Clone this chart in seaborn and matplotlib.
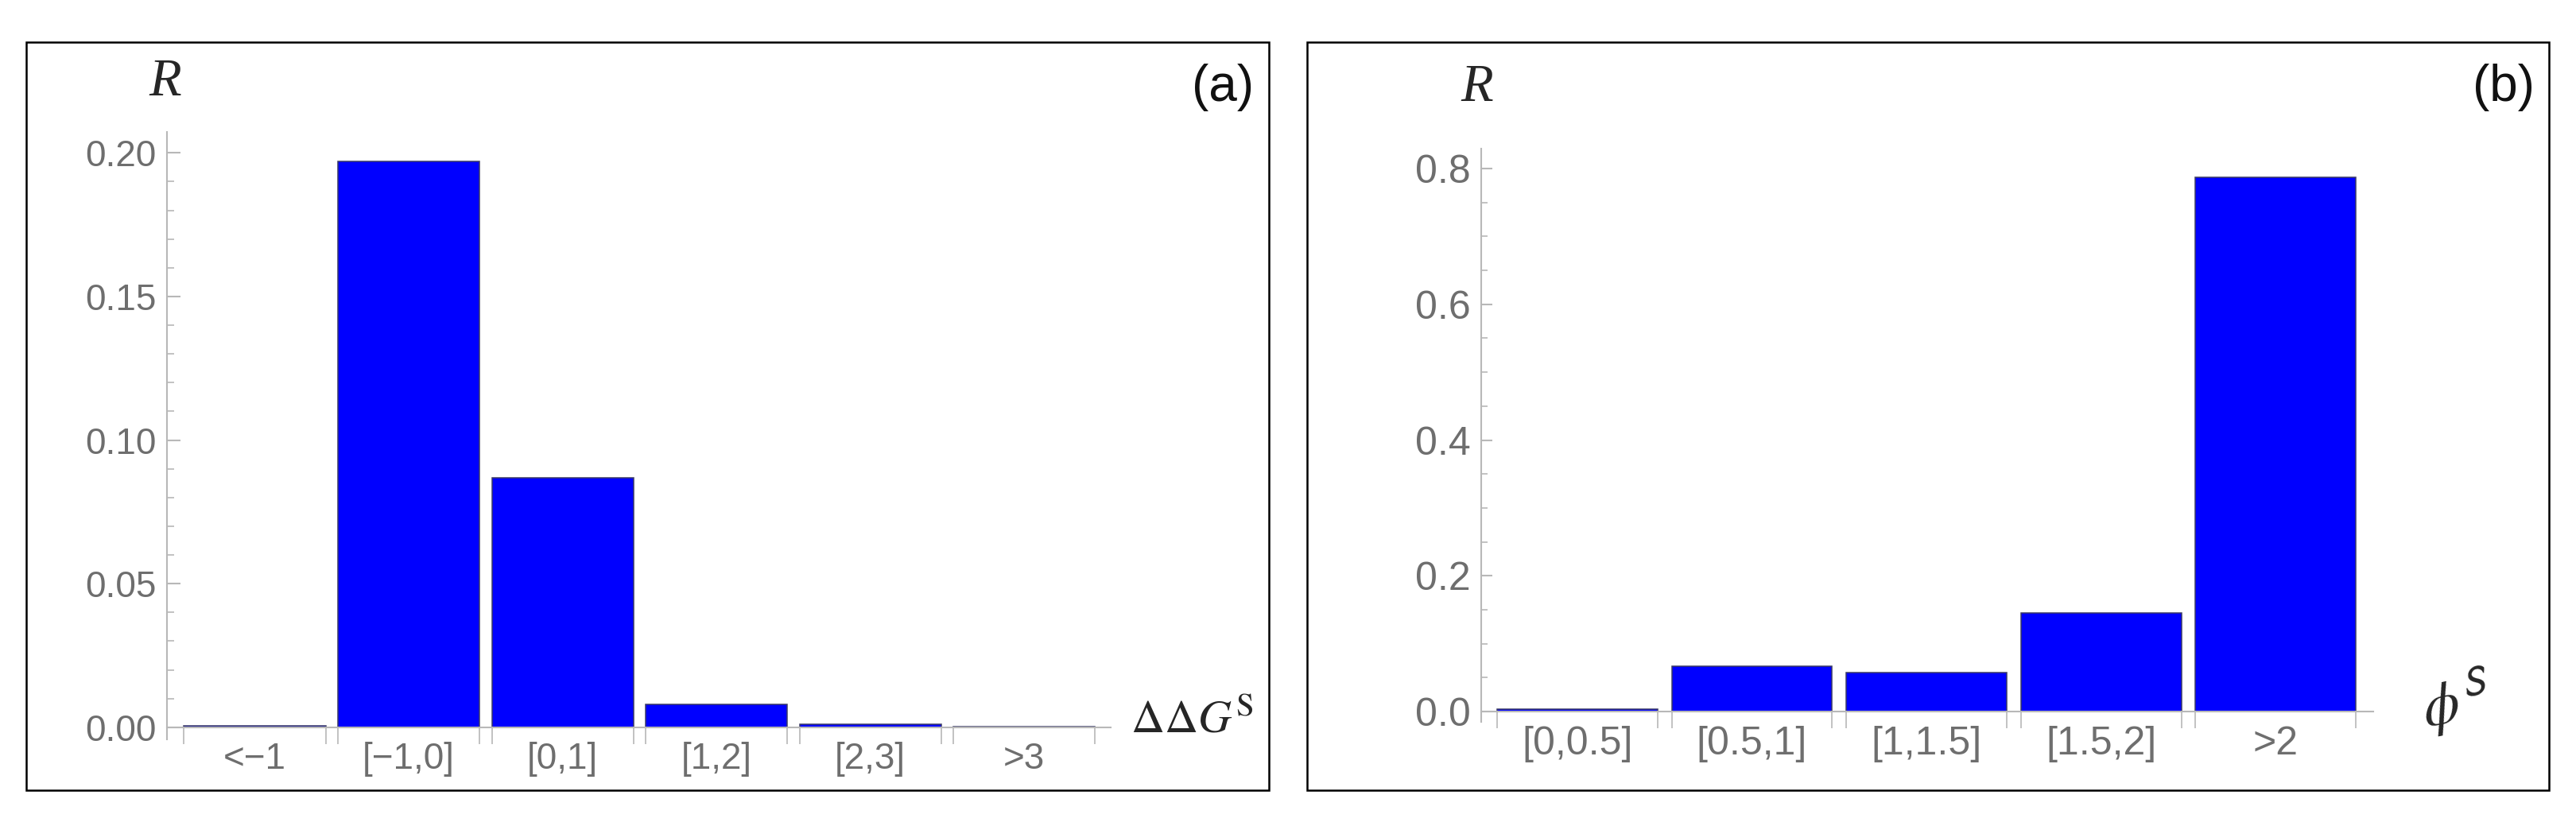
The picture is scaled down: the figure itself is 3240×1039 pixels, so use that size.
"""Histogramas de R por faixa de ddG e de phi (paineis a e b)."""

import matplotlib.pyplot as plt
import pandas as pd
import seaborn as sns
from matplotlib.patches import Rectangle
from matplotlib.ticker import FixedLocator, FormatStrFormatter, MultipleLocator

# dados
ddg_faixas = ["<\u22121", "[\u22121,0]", "[0,1]", "[1,2]", "[2,3]", ">3"]
ddg_r = [0.0006, 0.197, 0.087, 0.008, 0.001, 0.0003]

phi_faixas = ["[0,0.5]", "[0.5,1]", "[1,1.5]", "[1.5,2]", ">2"]
phi_r = [0.004, 0.067, 0.057, 0.145, 0.787]

W, H = 3241, 1039
AZUL = "#0000ff"
BORDA = "#3a3a66"
CINZA_EIXO = "#b8b8b8"
CINZA_TEXTO = "#6e6e6e"

sns.set_style("white")
plt.rcParams["font.family"] = ["Liberation Sans", "DejaVu Sans"]
plt.rcParams["mathtext.fontset"] = "stix"


def px(x, y):
    """Converte pixel (origem no topo) para fracao da figura."""
    return x / W, 1 - y / H


def painel(fig, caixa, faixas, valores, xlim, ylim, passo, passo_menor, fmt,
           fs, tam_maior, tam_menor):
    x0, y0, x1, y1 = caixa
    ax = fig.add_axes([x0 / W, 1 - y1 / H, (x1 - x0) / W, (y1 - y0) / H])
    df = pd.DataFrame({"faixa": faixas, "R": valores})
    sns.barplot(data=df, x="faixa", y="R", color=AZUL, saturation=1,
                edgecolor=BORDA, linewidth=1.1, width=0.92, ax=ax)
    ax.set_xlim(*xlim)
    ax.set_ylim(*ylim)
    ax.set_xlabel("")
    ax.set_ylabel("")

    for lado in ("top", "right"):
        ax.spines[lado].set_visible(False)
    ax.spines["bottom"].set_position(("data", 0))
    for lado in ("left", "bottom"):
        ax.spines[lado].set_color(CINZA_EIXO)
        ax.spines[lado].set_linewidth(1.5)

    ax.yaxis.set_major_locator(MultipleLocator(passo))
    ax.yaxis.set_minor_locator(MultipleLocator(passo_menor))
    ax.yaxis.set_major_formatter(FormatStrFormatter(fmt))
    ax.tick_params(axis="y", which="both", left=True)
    ax.tick_params(axis="y", which="major", direction="in", length=tam_maior,
                   width=1.5, color=CINZA_EIXO, labelcolor=CINZA_TEXTO,
                   labelsize=fs, pad=9.5)
    ax.tick_params(axis="y", which="minor", direction="in", length=tam_menor,
                   width=1.2, color=CINZA_EIXO)

    # marcas do eixo x nas bordas das barras
    bordas = []
    for p in ax.patches:
        bordas += [p.get_x(), p.get_x() + p.get_width()]
    ax.xaxis.set_minor_locator(FixedLocator(sorted(bordas)))
    ax.tick_params(axis="x", which="both", bottom=True)
    ax.tick_params(axis="x", which="major", length=0, labelcolor=CINZA_TEXTO,
                   labelsize=fs, pad=13)
    ax.tick_params(axis="x", which="minor", direction="out", length=15,
                   width=1.2, color=CINZA_EIXO)
    return ax


fig = plt.figure(figsize=(W / 100, H / 100), dpi=100)

# painel (a)
painel(fig, (210, 166, 1397, 930), ddg_faixas, ddg_r,
       (-0.571, 5.563), (-0.0042, 0.2073), 0.05, 0.01, "%.2f", 33, 12, 6.5)
fig.text(*px(208, 104), "R", fontsize=48, fontstyle="italic",
         family="Liberation Serif", ha="center", va="center")
fig.text(*px(1422, 922), r"$\Delta\Delta G^{\mathrm{S}}$", fontsize=42,
         ha="left", va="baseline")
fig.text(*px(1538, 110), "(a)", fontsize=46, ha="center", va="center",
         color="#111111")

# painel (b)
painel(fig, (1863, 187, 2985, 908), phi_faixas, phi_r,
       (-0.551, 4.560), (-0.0152, 0.8293), 0.2, 0.05, "%.1f", 36, 10, 6)
fig.text(*px(1858, 110), "R", fontsize=48, fontstyle="italic",
         family="Liberation Serif", ha="center", va="center")
fig.text(*px(3090, 883), r"$\phi^{\mathsf{S}}$", fontsize=54, rotation=12,
         rotation_mode="anchor", ha="center", va="center")
fig.text(*px(3149, 110), "(b)", fontsize=46, ha="center", va="center",
         color="#111111")

# molduras dos paineis
for x0, y0, x1, y1 in [(33, 53, 1596, 994), (1644, 53, 3206, 994)]:
    fx, fy = px(x0, y1)
    fig.add_artist(Rectangle((fx, fy), (x1 - x0) / W, (y1 - y0) / H,
                             transform=fig.transFigure, fill=False,
                             edgecolor="black", linewidth=1.8))

fig.savefig("out.png", dpi=100)
plt.close(fig)
